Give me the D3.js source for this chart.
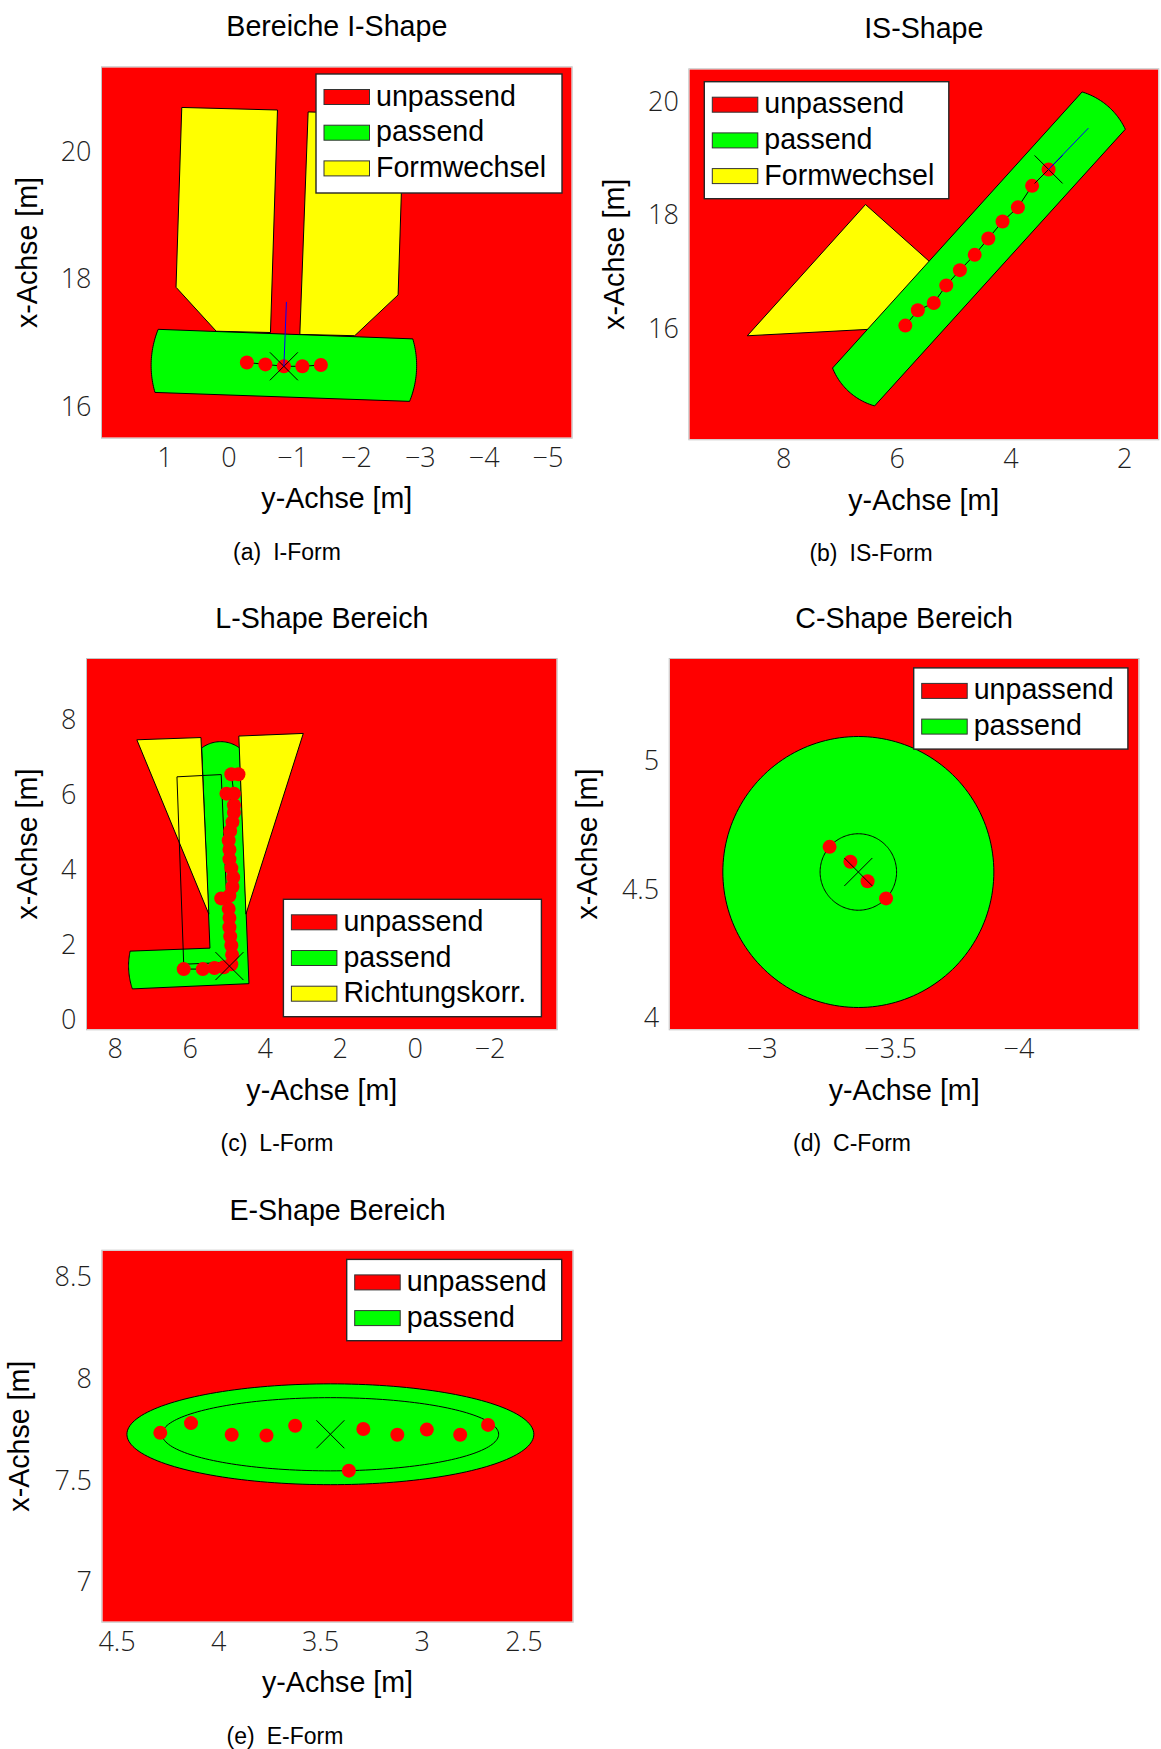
<!DOCTYPE html>
<html>
<head>
<meta charset="utf-8">
<script src="https://cdn.jsdelivr.net/npm/d3@7"></script>
<style>
  html, body { margin: 0; padding: 0; background: #ffffff; }
  svg { display: block; }
</style>
</head>
<body>
<svg id="fig" width="1161" height="1749"></svg>
<script>
// ---------------------------------------------------------------
// Data: every coordinate pair is [y-Achse, x-Achse] in metres
// ---------------------------------------------------------------

// legend categories
const legendShape = ["unpassend", "passend", "Formwechsel"];
const legendL = ["unpassend", "passend", "Richtungskorr."];
const legendRound = ["unpassend", "passend"];

// (a) I-Form
const iLimH = [1.98, -5.38], iLimV = [15.51, 21.32];
const iTicksH = [1, 0, -1, -2, -3, -4, -5], iTicksV = [16, 18, 20];
const iYellowLeft = [[0.73, 20.69], [-0.77, 20.65], [-0.66, 17.16], [0.19, 17.18], [0.82, 17.87]];
const iYellowRight = [[-1.25, 20.62], [-2.75, 20.58], [-2.66, 17.75], [-1.98, 17.11], [-1.12, 17.13]];
// passend: top-left, top-right, right end bulge, bottom-right, bottom-left, left end bulge
const iGreen = [[1.10, 17.21], [-2.89, 17.06], [-2.95, 16.61], [-2.84, 16.08], [1.15, 16.22], [1.21, 16.67]];
const iPoints = [[-0.29, 16.69], [-0.58, 16.66], [-0.87, 16.63], [-1.16, 16.63], [-1.45, 16.65]];
const iPose = [-0.87, 16.63];
const iHeading = [-0.91, 17.64];

// (b) IS-Form
const isLimH = [9.65, 1.40], isLimV = [14.04, 20.58];
const isTicksH = [8, 6, 4, 2], isTicksV = [16, 18, 20];
const isYellow = [[6.55, 18.19], [5.11, 16.90], [6.0, 16.01], [8.63, 15.87]];
// passend: upper end (corner, bulge, corner), lower end (corner, bulge, corner)
const isGreen = [[2.74, 20.18], [2.30, 19.94], [1.98, 19.52], [6.39, 14.63], [6.84, 14.88], [7.13, 15.30]];
const isPoints = [[5.85, 16.05], [5.63, 16.32], [5.35, 16.45], [5.13, 16.76], [4.89, 17.03], [4.63, 17.30],
                  [4.39, 17.59], [4.14, 17.89], [3.87, 18.14], [3.62, 18.52], [3.33, 18.81]];
const isPose = [3.33, 18.81];
const isHeading = [2.63, 19.54];

// (c) L-Form
const lLimH = [8.74, -3.79], lLimV = [-0.26, 9.64];
const lTicksH = [8, 6, 4, 2, 0, -2], lTicksV = [0, 2, 4, 6, 8];
const lYellowLeft = [[7.41, 7.48], [5.70, 7.54], [5.49, 2.82]];
const lYellowRight = [[4.69, 7.58], [2.97, 7.65], [4.50, 2.82]];
// passend: top cap (corner, bulge, corner), lower right, left end (corner, bulge, corner), inner corner
const lGreen = [[5.68, 7.26], [5.16, 7.43], [4.67, 7.26], [4.42, 0.96], [7.53, 0.82], [7.63, 1.38], [7.59, 1.83], [5.46, 1.91]];
const lFrame = [[6.34, 6.49], [5.16, 6.55], [4.94, 1.53], [6.16, 1.48]];
const lPoints = [[6.16, 1.35], [5.65, 1.35], [5.34, 1.38], [5.09, 1.40], [4.89, 1.48],
                 [4.87, 1.73], [4.89, 1.98], [4.92, 2.22], [4.94, 2.47], [4.94, 2.72], [4.96, 2.96],
                 [5.16, 3.24], [4.94, 3.31], [4.86, 3.55], [4.84, 3.80], [4.89, 4.05], [4.94, 4.29],
                 [4.94, 4.54], [4.96, 4.79], [4.92, 5.04], [4.86, 5.28], [4.82, 5.53], [4.82, 5.73],
                 [5.02, 6.04], [4.82, 6.04], [4.89, 6.56], [4.70, 6.56]];
const lPose = [4.94, 1.43];

// (d) C-Form
const cLimH = [-2.641, -4.468], cLimV = [3.955, 5.398];
const cTicksH = [-3, -3.5, -4], cTicksV = [4, 4.5, 5];
const cCenter = [-3.376, 4.568];
const cRadii = [0.528, 0.149];          // passend area, inner track
const cPoints = [[-3.264, 4.666], [-3.345, 4.608], [-3.412, 4.532], [-3.484, 4.465]];

// (e) E-Form
const eLimH = [4.570, 2.258], eLimV = [6.805, 8.630];
const eTicksH = [4.5, 4, 3.5, 3, 2.5], eTicksV = [7, 7.5, 8, 8.5];
const eCenter = [3.449, 7.727];
const eOuter = [1.0, 0.248];            // semi-axes of the passend area
const eInner = [0.827, 0.180];          // semi-axes of the inner track
const ePoints = [[4.285, 7.734], [4.134, 7.782], [3.934, 7.725], [3.763, 7.721], [3.622, 7.769],
                 [3.287, 7.753], [3.120, 7.725], [2.975, 7.750], [2.811, 7.725], [2.674, 7.773], [3.358, 7.548]];

// ---------------------------------------------------------------
// Styling
// ---------------------------------------------------------------
const FONT = '"Liberation Sans", Arial, Helvetica, sans-serif';
const TICK_FONT = '"Open Sans", Lato, "Liberation Sans", sans-serif';
const COLOR = {
  "unpassend": "#ff0000",
  "passend": "#00ff00",
  "Formwechsel": "#ffff00",
  "Richtungskorr.": "#ffff00"
};
const TEXT_SIZE = 28.6;
const DOT_R = 7;
const CROSS = 14;

const svg = d3.select("#fig");

// circle through three points, sampled from p0 over p1 to p2
function arcThrough(p0, p1, p2, n = 32) {
  const [x1, y1] = p0, [x2, y2] = p1, [x3, y3] = p2;
  const d = 2 * (x1 * (y2 - y3) + x2 * (y3 - y1) + x3 * (y1 - y2));
  const s1 = x1 * x1 + y1 * y1, s2 = x2 * x2 + y2 * y2, s3 = x3 * x3 + y3 * y3;
  const ux = (s1 * (y2 - y3) + s2 * (y3 - y1) + s3 * (y1 - y2)) / d;
  const uy = (s1 * (x3 - x2) + s2 * (x1 - x3) + s3 * (x2 - x1)) / d;
  const r = Math.hypot(x1 - ux, y1 - uy);
  const TAU = 2 * Math.PI;
  const norm = a => ((a % TAU) + TAU) % TAU;
  const a0 = Math.atan2(y1 - uy, x1 - ux);
  const d01 = norm(Math.atan2(y2 - uy, x2 - ux) - a0);
  const d02 = norm(Math.atan2(y3 - uy, x3 - ux) - a0);
  const sweep = d01 < d02 ? d02 : d02 - TAU;
  return d3.range(n + 1).map(i => {
    const t = a0 + sweep * i / n;
    return [ux + r * Math.cos(t), uy + r * Math.sin(t)];
  });
}

function ellipsePoints(c, rx, ry, n = 180) {
  return d3.range(n).map(i => {
    const t = i / n * 2 * Math.PI;
    return [c[0] + rx * Math.cos(t), c[1] + ry * Math.sin(t)];
  });
}

function drawPanel(spec) {
  const r = spec.rect;
  const root = svg.append("g").attr("class", "panel-" + spec.key);
  const x = d3.scaleLinear().domain(spec.limH).range([r.l, r.r]);
  const y = d3.scaleLinear().domain(spec.limV).range([r.b, r.t]);
  const line = d3.line().x(d => x(d[0])).y(d => y(d[1]));
  const closed = d3.line().x(d => x(d[0])).y(d => y(d[1])).curve(d3.curveLinearClosed);

  const clipId = "clip-" + spec.key;
  root.append("clipPath").attr("id", clipId).append("rect")
    .attr("x", r.l).attr("y", r.t).attr("width", r.r - r.l).attr("height", r.b - r.t);
  const plot = root.append("g").attr("clip-path", `url(#${clipId})`);

  // unpassend: the whole axes area
  const area = [[spec.limH[0], spec.limV[0]], [spec.limH[1], spec.limV[0]],
                [spec.limH[1], spec.limV[1]], [spec.limH[0], spec.limV[1]]];
  plot.append("path").attr("d", closed(area)).attr("fill", COLOR.unpassend);

  spec.draw(plot, x, y, line, closed);

  // axes frame
  root.append("rect")
    .attr("x", r.l - 0.5).attr("y", r.t - 0.5)
    .attr("width", r.r - r.l + 1).attr("height", r.b - r.t + 1)
    .attr("fill", "none").attr("stroke", "#c4c4c4").attr("stroke-width", 1);

  // ticks
  const fmt = d3.format("");
  const axB = root.append("g").attr("transform", `translate(0,${r.b})`)
    .call(d3.axisBottom(x).tickValues(spec.ticksH).tickFormat(fmt).tickSize(0).tickPadding(10));
  const axL = root.append("g").attr("transform", `translate(${r.l},0)`)
    .call(d3.axisLeft(y).tickValues(spec.ticksV).tickFormat(fmt).tickSize(0).tickPadding(10.5));
  [axB, axL].forEach(ax => {
    ax.select(".domain").remove();
    ax.attr("font-family", TICK_FONT).attr("font-size", 27).attr("font-weight", 300).attr("color", "#1f1f1f");
  });

  // title and axis labels
  root.append("text").attr("x", (r.l + r.r) / 2).attr("y", r.t - 31)
    .attr("text-anchor", "middle").attr("font-family", FONT).attr("font-size", TEXT_SIZE)
    .attr("fill", "#000").text(spec.title);
  root.append("text").attr("x", (r.l + r.r) / 2).attr("y", r.b + 70.5)
    .attr("text-anchor", "middle").attr("font-family", FONT).attr("font-size", TEXT_SIZE)
    .attr("fill", "#000").text("y-Achse [m]");
  root.append("text")
    .attr("transform", `translate(${r.l - spec.labelGap},${(r.t + r.b) / 2}) rotate(-90)`)
    .attr("text-anchor", "middle").attr("font-family", FONT).attr("font-size", TEXT_SIZE)
    .attr("fill", "#000").text("x-Achse [m]");

  // legend
  const lb = spec.legendBox;
  const lg = root.append("g");
  lg.append("rect").attr("x", lb.x).attr("y", lb.y).attr("width", lb.w).attr("height", lb.h)
    .attr("fill", "#ffffff").attr("stroke", "#262626").attr("stroke-width", 1.4);
  spec.legend.forEach((name, i) => {
    const cy = lb.y + 23 + i * 35.7;
    lg.append("rect").attr("x", lb.x + 8).attr("y", cy - 7.5).attr("width", 45.5).attr("height", 15)
      .attr("fill", COLOR[name]).attr("stroke", "#333").attr("stroke-width", 1);
    lg.append("text").attr("x", lb.x + 60).attr("y", cy + 8.5)
      .attr("font-family", FONT).attr("font-size", TEXT_SIZE).attr("fill", "#000").text(name);
  });

  // caption
  const cap = root.append("text").attr("x", spec.captionX).attr("y", r.b + 122)
    .attr("text-anchor", "middle").attr("font-family", FONT).attr("font-size", 23).attr("fill", "#000");
  cap.append("tspan").text(spec.caption[0]);
  cap.append("tspan").attr("dx", 12).text(spec.caption[1]);
}

function shape(g, closed, pts, fill) {
  g.append("path").attr("d", closed(pts)).attr("fill", fill)
    .attr("stroke", "#000").attr("stroke-width", 1).attr("stroke-linejoin", "round");
}
function outline(g, closed, pts) {
  g.append("path").attr("d", closed(pts)).attr("fill", "none").attr("stroke", "#000").attr("stroke-width", 1);
}
function track(g, line, pts) {
  g.append("path").attr("d", line(pts)).attr("fill", "none").attr("stroke", "#000").attr("stroke-width", 1);
}
function dots(g, x, y, pts) {
  g.selectAll(null).data(pts).enter().append("circle")
    .attr("cx", d => x(d[0])).attr("cy", d => y(d[1])).attr("r", DOT_R).attr("fill", COLOR.unpassend);
}
function cross(g, x, y, p) {
  const cx = x(p[0]), cy = y(p[1]);
  g.append("path")
    .attr("d", `M${cx - CROSS},${cy - CROSS}L${cx + CROSS},${cy + CROSS}M${cx - CROSS},${cy + CROSS}L${cx + CROSS},${cy - CROSS}`)
    .attr("stroke", "#000").attr("stroke-width", 1).attr("fill", "none");
}
function heading(g, line, from, to) {
  g.append("path").attr("d", line([from, to])).attr("stroke", "#0000ff").attr("stroke-width", 1).attr("fill", "none");
}

const panels = [
  {
    key: "a", title: "Bereiche I-Shape", caption: ["(a)", "I-Form"], captionX: 287,
    rect: { l: 102, r: 571.7, t: 67.3, b: 437.7 }, labelGap: 65,
    limH: iLimH, limV: iLimV, ticksH: iTicksH, ticksV: iTicksV,
    legend: legendShape, legendBox: { x: 316, y: 74, w: 246, h: 119 },
    draw(g, x, y, line, closed) {
      shape(g, closed, iYellowLeft, COLOR.Formwechsel);
      shape(g, closed, iYellowRight, COLOR.Formwechsel);
      const [tl, tr, rb, br, bl, lb] = iGreen;
      shape(g, closed, [tl, ...arcThrough(tr, rb, br), ...arcThrough(bl, lb, tl)], COLOR.passend);
      track(g, line, iPoints);
      dots(g, x, y, iPoints);
      cross(g, x, y, iPose);
      heading(g, line, iPose, iHeading);
    }
  },
  {
    key: "b", title: "IS-Shape", caption: ["(b)", "IS-Form"], captionX: 871,
    rect: { l: 689.3, r: 1158.3, t: 69.3, b: 439.3 }, labelGap: 65.6,
    limH: isLimH, limV: isLimV, ticksH: isTicksH, ticksV: isTicksV,
    legend: legendShape, legendBox: { x: 704.3, y: 81.7, w: 244.5, h: 117 },
    draw(g, x, y, line, closed) {
      shape(g, closed, isYellow, COLOR.Formwechsel);
      const [a0, am, a1, b0, bm, b1] = isGreen;
      shape(g, closed, [...arcThrough(a0, am, a1), ...arcThrough(b0, bm, b1)], COLOR.passend);
      track(g, line, isPoints);
      dots(g, x, y, isPoints);
      cross(g, x, y, isPose);
      heading(g, line, isPose, isHeading);
    }
  },
  {
    key: "c", title: "L-Shape Bereich", caption: ["(c)", "L-Form"], captionX: 277,
    rect: { l: 87, r: 556.7, t: 659, b: 1029.3 }, labelGap: 50,
    limH: lLimH, limV: lLimV, ticksH: lTicksH, ticksV: lTicksV,
    legend: legendL, legendBox: { x: 283.4, y: 899.3, w: 258, h: 117.4 },
    draw(g, x, y, line, closed) {
      const [c0, cm, c1, lr, e0, em, e1, inner] = lGreen;
      shape(g, closed, [...arcThrough(c0, cm, c1), lr, ...arcThrough(e0, em, e1), inner], COLOR.passend);
      shape(g, closed, lYellowLeft, COLOR["Richtungskorr."]);
      shape(g, closed, lYellowRight, COLOR["Richtungskorr."]);
      outline(g, closed, lFrame);
      track(g, line, lPoints);
      dots(g, x, y, lPoints);
      cross(g, x, y, lPose);
    }
  },
  {
    key: "d", title: "C-Shape Bereich", caption: ["(d)", "C-Form"], captionX: 852,
    rect: { l: 669.7, r: 1138.6, t: 659, b: 1029.3 }, labelGap: 73,
    limH: cLimH, limV: cLimV, ticksH: cTicksH, ticksV: cTicksV,
    legend: legendRound, legendBox: { x: 913.7, y: 667.9, w: 214.2, h: 81.2 },
    draw(g, x, y, line, closed) {
      shape(g, closed, ellipsePoints(cCenter, cRadii[0], cRadii[0]), COLOR.passend);
      outline(g, closed, ellipsePoints(cCenter, cRadii[1], cRadii[1]));
      dots(g, x, y, cPoints);
      cross(g, x, y, cCenter);
    }
  },
  {
    key: "e", title: "E-Shape Bereich", caption: ["(e)", "E-Form"], captionX: 285,
    rect: { l: 102.3, r: 572.7, t: 1250.7, b: 1621.7 }, labelGap: 73.4,
    limH: eLimH, limV: eLimV, ticksH: eTicksH, ticksV: eTicksV,
    legend: legendRound, legendBox: { x: 346.7, y: 1259.4, w: 215, h: 81.3 },
    draw(g, x, y, line, closed) {
      shape(g, closed, ellipsePoints(eCenter, eOuter[0], eOuter[1]), COLOR.passend);
      outline(g, closed, ellipsePoints(eCenter, eInner[0], eInner[1]));
      dots(g, x, y, ePoints);
      cross(g, x, y, eCenter);
    }
  }
];

panels.forEach(drawPanel);
</script>
</body>
</html>
